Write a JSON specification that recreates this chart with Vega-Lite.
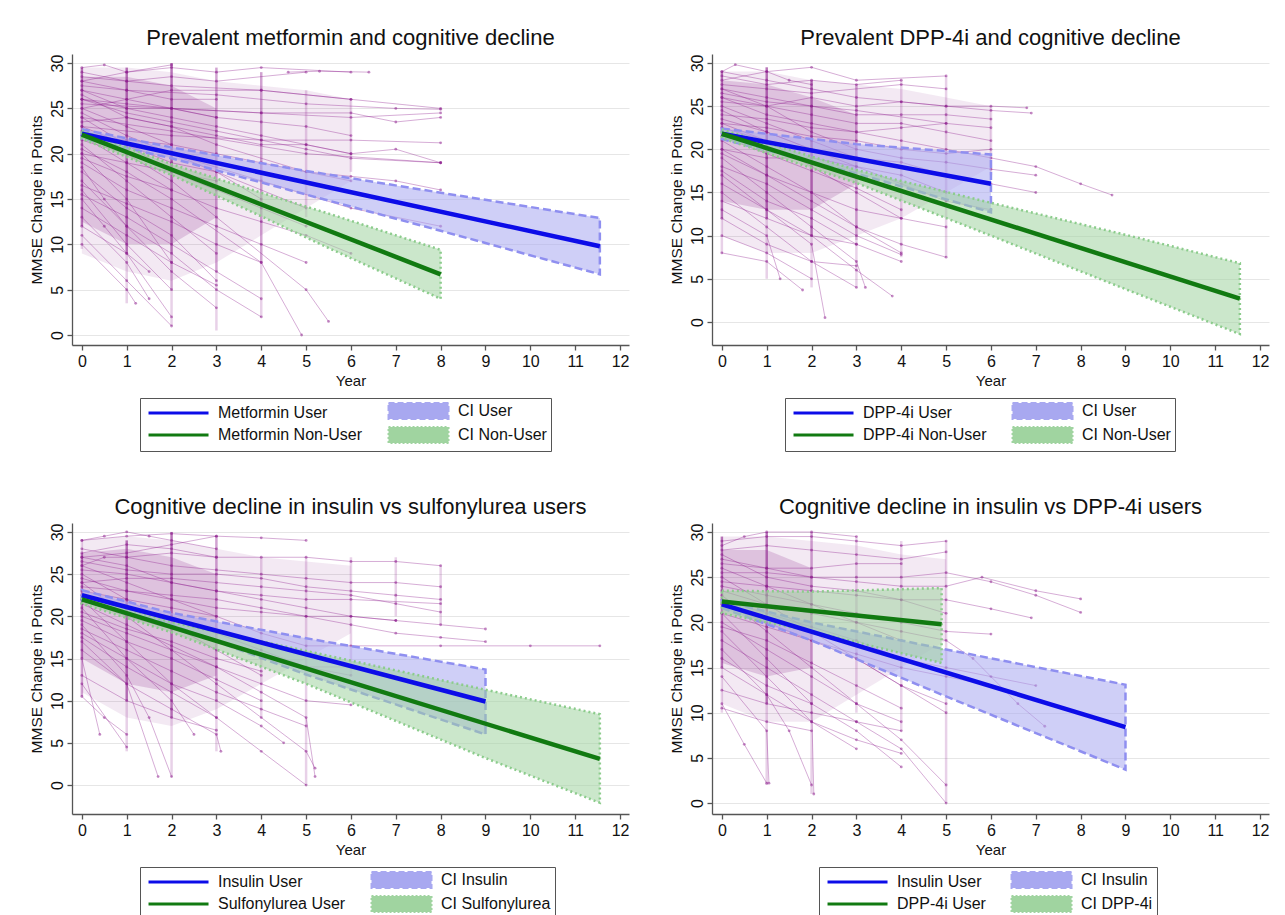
{
"$schema":"https://vega.github.io/schema/vega-lite/v6.json",
"background":"white",
"padding":{"left":29,"top":27,"right":10,"bottom":5},
"spacing":44,
"config":{
"font":"Liberation Sans",
"view":{"stroke":null},
"title":{"fontSize":22,"font":"Liberation Sans","fontWeight":"normal","color":"#111","offset":4,"frame":"group"},
"axis":{"labelFont":"Liberation Sans","titleFont":"Liberation Sans","labelColor":"#111","titleColor":"#111","domainColor":"#555","tickColor":"#555","domainWidth":1.3,"tickWidth":1.3,"tickSize":5,"titleFontWeight":"normal","labelFlush":false,"labelOverlap":false},
"axisX":{"grid":false,"labelFontSize":16,"titleFontSize":15,"labelPadding":3,"titlePadding":4},
"axisY":{"grid":true,"gridColor":"#e6e6e6","gridWidth":1,"labelFontSize":16,"titleFontSize":15.5,"labelPadding":2,"titlePadding":5,"labelAngle":270,"labelAlign":"center","labelBaseline":"bottom"},
"legend":{"labelFont":"Liberation Sans","labelFontSize":16,"labelColor":"#111","symbolSize":256,"labelOffset":56,"columnPadding":21,"rowPadding":0,"padding":4,"strokeColor":"#555","labelLimit":400,"symbolStrokeWidth":3,"symbolOpacity":1}
},
"datasets":{
"t1":[{"i":1,"x":0,"y":29},{"i":1,"x":1,"y":28},{"i":1,"x":2,"y":27.5},{"i":1,"x":4,"y":27},{"i":1,"x":6,"y":26},
{"i":2,"x":0,"y":27},{"i":2,"x":1,"y":26},{"i":2,"x":3,"y":24},
{"i":3,"x":0,"y":25},{"i":3,"x":1,"y":23},{"i":3,"x":2,"y":21},
{"i":4,"x":0,"y":24},{"i":4,"x":2,"y":22.5},{"i":4,"x":5,"y":20},{"i":4,"x":8,"y":19},
{"i":5,"x":0,"y":22},{"i":5,"x":1,"y":19},{"i":5,"x":2,"y":16},
{"i":6,"x":0,"y":21},{"i":6,"x":1,"y":17},{"i":6,"x":2,"y":13},{"i":6,"x":3,"y":9},
{"i":7,"x":0,"y":20},{"i":7,"x":1,"y":15},{"i":7,"x":2,"y":8},
{"i":8,"x":0,"y":18},{"i":8,"x":1,"y":14},{"i":8,"x":2,"y":11},{"i":8,"x":3,"y":6},
{"i":9,"x":0,"y":16},{"i":9,"x":1,"y":10},{"i":9,"x":2,"y":5},
{"i":10,"x":0,"y":15},{"i":10,"x":0.5,"y":12},{"i":10,"x":1,"y":9},{"i":10,"x":2,"y":2},
{"i":11,"x":0,"y":13},{"i":11,"x":1,"y":8},{"i":11,"x":1.5,"y":4},
{"i":12,"x":0,"y":26},{"i":12,"x":1,"y":25},{"i":12,"x":2,"y":25},{"i":12,"x":3,"y":24},{"i":12,"x":4,"y":23.5},{"i":12,"x":5,"y":23},{"i":12,"x":6,"y":22},
{"i":13,"x":0,"y":28},{"i":13,"x":1,"y":29},{"i":13,"x":2,"y":29.5},{"i":13,"x":3,"y":29},{"i":13,"x":4,"y":29.5},{"i":13,"x":6,"y":29},
{"i":14,"x":0,"y":23},{"i":14,"x":1,"y":21},{"i":14,"x":2,"y":19},{"i":14,"x":3,"y":18},{"i":14,"x":4,"y":15},
{"i":15,"x":0,"y":19},{"i":15,"x":1,"y":16},{"i":15,"x":2,"y":14},{"i":15,"x":3,"y":12},{"i":15,"x":4,"y":10},{"i":15,"x":5,"y":8},
{"i":16,"x":0,"y":17},{"i":16,"x":1,"y":12},{"i":16,"x":2,"y":9},{"i":16,"x":3,"y":5},{"i":16,"x":4,"y":2},
{"i":17,"x":0,"y":26.5},{"i":17,"x":1,"y":24},{"i":17,"x":2,"y":23},{"i":17,"x":3,"y":21},{"i":17,"x":5,"y":18},{"i":17,"x":6,"y":17},
{"i":18,"x":0,"y":24.5},{"i":18,"x":1,"y":22},{"i":18,"x":3,"y":18},{"i":18,"x":5,"y":14},
{"i":19,"x":0,"y":22.5},{"i":19,"x":2,"y":20},{"i":19,"x":4,"y":17},{"i":19,"x":6,"y":14},{"i":19,"x":8,"y":12},
{"i":20,"x":0,"y":25.5},{"i":20,"x":2,"y":25},{"i":20,"x":4,"y":24.5},{"i":20,"x":6,"y":24},{"i":20,"x":8,"y":24.5},
{"i":21,"x":0,"y":21.5},{"i":21,"x":1,"y":20},{"i":21,"x":2,"y":17},{"i":21,"x":3,"y":13},{"i":21,"x":5,"y":5},{"i":21,"x":5.5,"y":1.5},
{"i":22,"x":0,"y":20.5},{"i":22,"x":1,"y":18},{"i":22,"x":2,"y":15},{"i":22,"x":4,"y":8},{"i":22,"x":4.9,"y":0},
{"i":23,"x":0,"y":27.5},{"i":23,"x":1,"y":27},{"i":23,"x":2,"y":26},{"i":23,"x":3,"y":26},
{"i":24,"x":0,"y":18.5},{"i":24,"x":0.5,"y":15},{"i":24,"x":1,"y":12},{"i":24,"x":2,"y":7},{"i":24,"x":3,"y":3},
{"i":25,"x":0,"y":14},{"i":25,"x":1,"y":11},{"i":25,"x":2,"y":8},{"i":25,"x":3,"y":5.5},
{"i":26,"x":0,"y":12},{"i":26,"x":1,"y":9},{"i":26,"x":1.5,"y":7},
{"i":27,"x":0,"y":10},{"i":27,"x":1,"y":5},{"i":27,"x":1.2,"y":3.5},
{"i":28,"x":0,"y":23.5},{"i":28,"x":1,"y":24},{"i":28,"x":2,"y":23},{"i":28,"x":3,"y":22},{"i":28,"x":4,"y":21},{"i":28,"x":5,"y":21},{"i":28,"x":6,"y":20},{"i":28,"x":7,"y":20.5},{"i":28,"x":8,"y":19},
{"i":29,"x":0,"y":25},{"i":29,"x":1,"y":26},{"i":29,"x":2,"y":27},{"i":29,"x":4,"y":27},{"i":29,"x":6,"y":26},{"i":29,"x":8,"y":25},
{"i":30,"x":0,"y":28.5},{"i":30,"x":1,"y":28},{"i":30,"x":2,"y":28.5},{"i":30,"x":3,"y":28},{"i":30,"x":5,"y":29},
{"i":31,"x":0,"y":19.5},{"i":31,"x":1,"y":17.5},{"i":31,"x":2,"y":16},{"i":31,"x":3,"y":14},{"i":31,"x":4,"y":12.5},{"i":31,"x":5,"y":11},{"i":31,"x":6,"y":9},
{"i":32,"x":0,"y":16.5},{"i":32,"x":1,"y":14.5},{"i":32,"x":2,"y":12.5},{"i":32,"x":3,"y":10},{"i":32,"x":4,"y":8},
{"i":33,"x":0,"y":22},{"i":33,"x":1,"y":21.5},{"i":33,"x":2,"y":21},{"i":33,"x":3,"y":20},{"i":33,"x":4,"y":19},{"i":33,"x":5,"y":18},{"i":33,"x":6,"y":17.5},{"i":33,"x":7,"y":17},{"i":33,"x":8,"y":16},
{"i":34,"x":0,"y":27},{"i":34,"x":1,"y":25},{"i":34,"x":2,"y":24},{"i":34,"x":3,"y":23},{"i":34,"x":4,"y":22},{"i":34,"x":5,"y":21},{"i":34,"x":6,"y":20},
{"i":35,"x":0,"y":20},{"i":35,"x":1,"y":19},{"i":35,"x":2,"y":18},{"i":35,"x":3,"y":17},
{"i":36,"x":0,"y":15.5},{"i":36,"x":1,"y":13},{"i":36,"x":2,"y":10},{"i":36,"x":3,"y":7},{"i":36,"x":4,"y":4},
{"i":37,"x":0,"y":26},{"i":37,"x":1,"y":24.5},{"i":37,"x":2,"y":23.5},{"i":37,"x":3,"y":22.5},{"i":37,"x":4,"y":21.5},{"i":37,"x":5,"y":20.5},{"i":37,"x":6,"y":19.5},{"i":37,"x":8,"y":19},
{"i":38,"x":0,"y":24},{"i":38,"x":1,"y":21},{"i":38,"x":2,"y":18},{"i":38,"x":3,"y":16},{"i":38,"x":4,"y":14},{"i":38,"x":5,"y":12},
{"i":39,"x":0,"y":29.5},{"i":39,"x":0.5,"y":29.8},{"i":39,"x":1,"y":29},{"i":39,"x":2,"y":29.8},
{"i":40,"x":0,"y":11},{"i":40,"x":1,"y":6},{"i":40,"x":2,"y":1},
{"i":41,"x":4.6,"y":29},{"i":41,"x":5.3,"y":29.1},{"i":41,"x":6.4,"y":29},
{"i":42,"x":0,"y":26},{"i":42,"x":1,"y":25.5},{"i":42,"x":2,"y":25},{"i":42,"x":4,"y":24.5},{"i":42,"x":6,"y":24.5},{"i":42,"x":7,"y":23.5},{"i":42,"x":8,"y":24},
{"i":43,"x":0,"y":23},{"i":43,"x":2,"y":22},{"i":43,"x":4,"y":21.5},{"i":43,"x":6,"y":21.5},{"i":43,"x":8,"y":21.2},
{"i":44,"x":0,"y":28},{"i":44,"x":1,"y":27},{"i":44,"x":3,"y":26.5},{"i":44,"x":5,"y":25.5},{"i":44,"x":7,"y":25},{"i":44,"x":8,"y":24.9}],
"t2":[{"i":1,"x":0,"y":29},{"i":1,"x":1,"y":28},{"i":1,"x":2,"y":27},{"i":1,"x":3,"y":26},{"i":1,"x":4,"y":25.5},{"i":1,"x":5,"y":25},{"i":1,"x":6,"y":24.5},{"i":1,"x":6.9,"y":24.2},
{"i":2,"x":0,"y":27},{"i":2,"x":1,"y":26},{"i":2,"x":2,"y":25},{"i":2,"x":3,"y":24.5},{"i":2,"x":5,"y":23},{"i":2,"x":6,"y":22.5},
{"i":3,"x":0,"y":26},{"i":3,"x":1,"y":24},{"i":3,"x":2,"y":23},{"i":3,"x":3,"y":22},{"i":3,"x":4,"y":21},{"i":3,"x":5,"y":20},{"i":3,"x":6,"y":19},{"i":3,"x":7,"y":18},{"i":3,"x":8,"y":16},{"i":3,"x":8.7,"y":14.7},
{"i":4,"x":0,"y":25},{"i":4,"x":1,"y":23},{"i":4,"x":2,"y":21},{"i":4,"x":3,"y":19},
{"i":5,"x":0,"y":23},{"i":5,"x":1,"y":21},{"i":5,"x":2,"y":18},{"i":5,"x":3,"y":15},{"i":5,"x":4,"y":12},
{"i":6,"x":0,"y":21},{"i":6,"x":1,"y":18},{"i":6,"x":2,"y":15},{"i":6,"x":3,"y":11},{"i":6,"x":4,"y":8},
{"i":7,"x":0,"y":19},{"i":7,"x":1,"y":15},{"i":7,"x":2,"y":11},{"i":7,"x":3,"y":7},{"i":7,"x":3.2,"y":4},
{"i":8,"x":0,"y":17},{"i":8,"x":1,"y":13},{"i":8,"x":2,"y":9},{"i":8,"x":2.3,"y":0.5},
{"i":9,"x":0,"y":15},{"i":9,"x":1,"y":11},{"i":9,"x":2,"y":7},{"i":9,"x":3,"y":4},
{"i":10,"x":0,"y":8},{"i":10,"x":1,"y":7},{"i":10,"x":1.8,"y":3.7},
{"i":11,"x":0,"y":13},{"i":11,"x":1,"y":10},{"i":11,"x":1.3,"y":5},
{"i":12,"x":0,"y":28},{"i":12,"x":1,"y":29},{"i":12,"x":2,"y":29.5},{"i":12,"x":3,"y":28},{"i":12,"x":5,"y":28.5},
{"i":13,"x":0,"y":24},{"i":13,"x":1,"y":23.5},{"i":13,"x":2,"y":22.5},{"i":13,"x":3,"y":22},{"i":13,"x":4,"y":22.5},{"i":13,"x":5,"y":23},
{"i":14,"x":0,"y":20},{"i":14,"x":1,"y":17},{"i":14,"x":2,"y":14},{"i":14,"x":3,"y":11},{"i":14,"x":4,"y":9},{"i":14,"x":5,"y":7.5},
{"i":15,"x":0,"y":18},{"i":15,"x":1,"y":16},{"i":15,"x":2,"y":13},{"i":15,"x":3,"y":10},{"i":15,"x":4,"y":7.8},
{"i":16,"x":0,"y":16},{"i":16,"x":1,"y":13},{"i":16,"x":2,"y":10},{"i":16,"x":3,"y":6},{"i":16,"x":3.8,"y":3},
{"i":17,"x":0,"y":27.5},{"i":17,"x":1,"y":27},{"i":17,"x":2,"y":26.5},{"i":17,"x":4,"y":27.5},{"i":17,"x":5,"y":27},
{"i":18,"x":0,"y":25.5},{"i":18,"x":1,"y":25},{"i":18,"x":2,"y":24},{"i":18,"x":3,"y":23},{"i":18,"x":4,"y":23},{"i":18,"x":5,"y":22},{"i":18,"x":6,"y":21},
{"i":19,"x":0,"y":23.5},{"i":19,"x":1,"y":22},{"i":19,"x":2,"y":20},{"i":19,"x":3,"y":18},{"i":19,"x":4,"y":17},{"i":19,"x":5,"y":15},
{"i":20,"x":0,"y":21.5},{"i":20,"x":1,"y":19.5},{"i":20,"x":2,"y":17.5},{"i":20,"x":3,"y":15.5},{"i":20,"x":4,"y":13},
{"i":21,"x":0,"y":20},{"i":21,"x":1,"y":19},{"i":21,"x":2,"y":19},{"i":21,"x":3,"y":18},{"i":21,"x":4,"y":16},{"i":21,"x":5,"y":14},{"i":21,"x":6,"y":13},
{"i":22,"x":0,"y":14},{"i":22,"x":1,"y":12},{"i":22,"x":2,"y":10},{"i":22,"x":3,"y":9},{"i":22,"x":4,"y":7},
{"i":23,"x":0,"y":26.5},{"i":23,"x":1,"y":25.5},{"i":23,"x":2,"y":25},{"i":23,"x":3,"y":24},{"i":23,"x":4,"y":24},{"i":23,"x":5,"y":24},{"i":23,"x":6,"y":23.5},
{"i":24,"x":0,"y":22.5},{"i":24,"x":1,"y":21},{"i":24,"x":2,"y":20},{"i":24,"x":3,"y":19},{"i":24,"x":4,"y":18.5},{"i":24,"x":5,"y":17},{"i":24,"x":6,"y":16},{"i":24,"x":7,"y":15},
{"i":25,"x":0,"y":29},{"i":25,"x":0.3,"y":29.8},{"i":25,"x":1,"y":29},{"i":25,"x":1.5,"y":28},{"i":25,"x":2,"y":27.5},
{"i":26,"x":0,"y":24.5},{"i":26,"x":1,"y":22},{"i":26,"x":2,"y":20},{"i":26,"x":3,"y":19},{"i":26,"x":4,"y":18},
{"i":27,"x":0,"y":19.5},{"i":27,"x":1,"y":17},{"i":27,"x":2,"y":15},{"i":27,"x":3,"y":13},{"i":27,"x":4,"y":12},{"i":27,"x":5,"y":11},
{"i":28,"x":0,"y":17.5},{"i":28,"x":1,"y":14},{"i":28,"x":2,"y":12},{"i":28,"x":3,"y":9},
{"i":29,"x":0,"y":26},{"i":29,"x":1,"y":25},{"i":29,"x":2,"y":26},{"i":29,"x":3,"y":25},{"i":29,"x":4,"y":25.5},{"i":29,"x":5,"y":25},{"i":29,"x":6,"y":25},{"i":29,"x":6.8,"y":24.8},
{"i":30,"x":0,"y":10},{"i":30,"x":1,"y":8},{"i":30,"x":2,"y":5},
{"i":31,"x":0,"y":23},{"i":31,"x":1,"y":22.5},{"i":31,"x":2,"y":21.5},{"i":31,"x":3,"y":21},{"i":31,"x":4,"y":20},{"i":31,"x":5,"y":19.5},{"i":31,"x":6,"y":20},
{"i":32,"x":0,"y":27},{"i":32,"x":1,"y":25},{"i":32,"x":2,"y":22},{"i":32,"x":3,"y":20},{"i":32,"x":4,"y":19},{"i":32,"x":5,"y":18.5},{"i":32,"x":6,"y":17.7},{"i":32,"x":7,"y":17},
{"i":33,"x":0,"y":12},{"i":33,"x":1,"y":9},{"i":33,"x":2,"y":7},{"i":33,"x":3,"y":6.5},
{"i":34,"x":0,"y":28.5},{"i":34,"x":1,"y":27.5},{"i":34,"x":2,"y":28},{"i":34,"x":3,"y":27.5},{"i":34,"x":4,"y":28}],
"t3":[{"i":1,"x":0,"y":29},{"i":1,"x":1,"y":29.5},{"i":1,"x":2,"y":29.8},{"i":1,"x":3,"y":29.5},{"i":1,"x":4,"y":29.3},{"i":1,"x":5,"y":29},
{"i":2,"x":0,"y":28},{"i":2,"x":1,"y":27},{"i":2,"x":2,"y":26},{"i":2,"x":3,"y":25.5},{"i":2,"x":4,"y":25},{"i":2,"x":5,"y":24.5},{"i":2,"x":6,"y":24},{"i":2,"x":7,"y":24},{"i":2,"x":8,"y":23.5},
{"i":3,"x":0,"y":27},{"i":3,"x":1,"y":26},{"i":3,"x":2,"y":24},{"i":3,"x":3,"y":23},{"i":3,"x":4,"y":22},{"i":3,"x":5,"y":21},{"i":3,"x":6,"y":20},{"i":3,"x":7,"y":19.5},{"i":3,"x":8,"y":19},{"i":3,"x":9,"y":18.5},
{"i":4,"x":0,"y":26},{"i":4,"x":1,"y":24},{"i":4,"x":2,"y":22},{"i":4,"x":3,"y":20},
{"i":5,"x":0,"y":25},{"i":5,"x":1,"y":22},{"i":5,"x":2,"y":19},{"i":5,"x":3,"y":16},{"i":5,"x":4,"y":13},
{"i":6,"x":0,"y":24},{"i":6,"x":1,"y":20},{"i":6,"x":2,"y":16},{"i":6,"x":3,"y":12},{"i":6,"x":4,"y":8},{"i":6,"x":5,"y":4},{"i":6,"x":5.2,"y":2},
{"i":7,"x":0,"y":22},{"i":7,"x":1,"y":17},{"i":7,"x":2,"y":12},{"i":7,"x":3,"y":8},{"i":7,"x":4,"y":4},{"i":7,"x":5,"y":0},
{"i":8,"x":0,"y":21},{"i":8,"x":1,"y":15},{"i":8,"x":2,"y":10},{"i":8,"x":2.5,"y":6},
{"i":9,"x":0,"y":19},{"i":9,"x":1,"y":13},{"i":9,"x":1.5,"y":8},{"i":9,"x":2,"y":1},
{"i":10,"x":0,"y":17},{"i":10,"x":1,"y":12},{"i":10,"x":1.7,"y":1},
{"i":11,"x":0,"y":15},{"i":11,"x":0.4,"y":6},
{"i":12,"x":0,"y":12},{"i":12,"x":1,"y":4.5},
{"i":13,"x":0,"y":23},{"i":13,"x":1,"y":22},{"i":13,"x":2,"y":21},{"i":13,"x":3,"y":20},{"i":13,"x":4,"y":18},{"i":13,"x":5,"y":16.5},{"i":13,"x":6,"y":16.5},{"i":13,"x":8,"y":16.5},{"i":13,"x":10,"y":16.5},{"i":13,"x":11.55,"y":16.5},
{"i":14,"x":0,"y":20},{"i":14,"x":1,"y":18},{"i":14,"x":2,"y":16},{"i":14,"x":3,"y":14},{"i":14,"x":4,"y":12},{"i":14,"x":5,"y":10},{"i":14,"x":6,"y":9.5},
{"i":15,"x":0,"y":18},{"i":15,"x":1,"y":15},{"i":15,"x":2,"y":12},{"i":15,"x":3,"y":10},{"i":15,"x":4,"y":7},{"i":15,"x":4.5,"y":5},
{"i":16,"x":0,"y":16},{"i":16,"x":1,"y":12},{"i":16,"x":2,"y":9},{"i":16,"x":3,"y":6},{"i":16,"x":3.1,"y":4},
{"i":17,"x":0,"y":26.5},{"i":17,"x":1,"y":25.5},{"i":17,"x":2,"y":25},{"i":17,"x":3,"y":25},{"i":17,"x":4,"y":24.5},{"i":17,"x":5,"y":23.5},{"i":17,"x":6,"y":23},{"i":17,"x":7,"y":22.5},{"i":17,"x":8,"y":22},
{"i":18,"x":0,"y":24.5},{"i":18,"x":1,"y":23},{"i":18,"x":2,"y":22},{"i":18,"x":3,"y":21},{"i":18,"x":4,"y":20.5},{"i":18,"x":5,"y":20},{"i":18,"x":6,"y":20},{"i":18,"x":7,"y":19.5},
{"i":19,"x":0,"y":22.5},{"i":19,"x":1,"y":21},{"i":19,"x":2,"y":20},{"i":19,"x":3,"y":18},{"i":19,"x":4,"y":16},{"i":19,"x":5,"y":14},{"i":19,"x":6,"y":13},
{"i":20,"x":0,"y":27.5},{"i":20,"x":1,"y":28.5},{"i":20,"x":2,"y":28},{"i":20,"x":3,"y":27},{"i":20,"x":4,"y":27},{"i":20,"x":5,"y":27},{"i":20,"x":6,"y":26.5},{"i":20,"x":7,"y":26.5},{"i":20,"x":8,"y":26},
{"i":21,"x":0,"y":21.5},{"i":21,"x":1,"y":19},{"i":21,"x":2,"y":16.5},{"i":21,"x":3,"y":14},{"i":21,"x":4,"y":11},{"i":21,"x":5,"y":8},{"i":21,"x":5.2,"y":1},
{"i":22,"x":0,"y":19.5},{"i":22,"x":1,"y":17},{"i":22,"x":2,"y":15},{"i":22,"x":3,"y":12.5},{"i":22,"x":4,"y":10},
{"i":23,"x":0,"y":23.5},{"i":23,"x":1,"y":23},{"i":23,"x":2,"y":22.5},{"i":23,"x":3,"y":22},{"i":23,"x":4,"y":21},{"i":23,"x":5,"y":20},{"i":23,"x":6,"y":19},{"i":23,"x":7,"y":18},{"i":23,"x":8,"y":17.5},{"i":23,"x":9,"y":17},
{"i":24,"x":0,"y":25.5},{"i":24,"x":1,"y":25},{"i":24,"x":2,"y":24},{"i":24,"x":3,"y":23},{"i":24,"x":4,"y":22.5},{"i":24,"x":5,"y":22},{"i":24,"x":6,"y":22},{"i":24,"x":8,"y":21.5},
{"i":25,"x":0,"y":17.5},{"i":25,"x":1,"y":14},{"i":25,"x":2,"y":11},{"i":25,"x":3,"y":8},
{"i":26,"x":0,"y":26},{"i":26,"x":0.5,"y":27},{"i":26,"x":1,"y":27},{"i":26,"x":2,"y":27.5},{"i":26,"x":3,"y":27},
{"i":27,"x":0,"y":18.5},{"i":27,"x":1,"y":16},{"i":27,"x":2,"y":13.5},{"i":27,"x":3,"y":11},{"i":27,"x":4,"y":9},{"i":27,"x":5,"y":7},
{"i":28,"x":0,"y":13},{"i":28,"x":1,"y":10},{"i":28,"x":2,"y":8},{"i":28,"x":3,"y":6.5},
{"i":29,"x":0,"y":24},{"i":29,"x":1,"y":24.5},{"i":29,"x":2,"y":24.5},{"i":29,"x":3,"y":24},{"i":29,"x":4,"y":23.5},{"i":29,"x":5,"y":23},{"i":29,"x":6,"y":22.5},{"i":29,"x":7,"y":21.5},{"i":29,"x":8,"y":20.5},
{"i":30,"x":0,"y":29},{"i":30,"x":0.5,"y":29.5},{"i":30,"x":1,"y":30},{"i":30,"x":1.5,"y":29.5},{"i":30,"x":2,"y":29},{"i":30,"x":3,"y":28},
{"i":31,"x":0,"y":22},{"i":31,"x":1,"y":20},{"i":31,"x":2,"y":18.5},{"i":31,"x":3,"y":17},{"i":31,"x":4,"y":15.5},{"i":31,"x":5,"y":14},{"i":31,"x":6,"y":14},
{"i":32,"x":0,"y":10.5},{"i":32,"x":0.5,"y":8},{"i":32,"x":1,"y":6},
{"i":33,"x":0,"y":27},{"i":33,"x":1,"y":27.5},{"i":33,"x":2,"y":28.5},{"i":33,"x":3,"y":29.5},
{"i":34,"x":0,"y":20.5},{"i":34,"x":1,"y":18.5},{"i":34,"x":2,"y":17},{"i":34,"x":3,"y":15},{"i":34,"x":4,"y":13.5}],
"t4":[{"i":1,"x":0,"y":29},{"i":1,"x":1,"y":29.5},{"i":1,"x":2,"y":29.5},{"i":1,"x":3,"y":29},{"i":1,"x":4,"y":28.5},{"i":1,"x":5,"y":29},
{"i":2,"x":0,"y":28},{"i":2,"x":1,"y":28.5},{"i":2,"x":2,"y":28},{"i":2,"x":3,"y":27.5},{"i":2,"x":4,"y":27},{"i":2,"x":5,"y":27.8},
{"i":3,"x":0,"y":27},{"i":3,"x":1,"y":26},{"i":3,"x":2,"y":25},{"i":3,"x":3,"y":24.5},{"i":3,"x":4,"y":24},{"i":3,"x":5,"y":24},{"i":3,"x":5.8,"y":25},{"i":3,"x":7,"y":23.5},{"i":3,"x":8,"y":22.6},
{"i":4,"x":0,"y":26},{"i":4,"x":1,"y":24},{"i":4,"x":2,"y":22},{"i":4,"x":3,"y":20},{"i":4,"x":4,"y":18},
{"i":5,"x":0,"y":25},{"i":5,"x":1,"y":22},{"i":5,"x":2,"y":19},{"i":5,"x":3,"y":16},{"i":5,"x":4,"y":13},{"i":5,"x":5,"y":11},
{"i":6,"x":0,"y":23},{"i":6,"x":1,"y":19},{"i":6,"x":2,"y":15},{"i":6,"x":3,"y":11},{"i":6,"x":4,"y":7},{"i":6,"x":5,"y":2},
{"i":7,"x":0,"y":21},{"i":7,"x":1,"y":16},{"i":7,"x":2,"y":11},{"i":7,"x":2.05,"y":1},
{"i":8,"x":0,"y":19},{"i":8,"x":1,"y":14},{"i":8,"x":2,"y":9},{"i":8,"x":3,"y":6},
{"i":9,"x":0,"y":17},{"i":9,"x":1,"y":12},{"i":9,"x":1.5,"y":8},{"i":9,"x":2,"y":2},
{"i":10,"x":0,"y":14},{"i":10,"x":1,"y":8},{"i":10,"x":1.05,"y":2.2},
{"i":11,"x":0,"y":11},{"i":11,"x":0.5,"y":6.5},{"i":11,"x":1,"y":2.2},
{"i":12,"x":0,"y":25.5},{"i":12,"x":1,"y":25.5},{"i":12,"x":2,"y":25},{"i":12,"x":3,"y":25},{"i":12,"x":4,"y":25},{"i":12,"x":5,"y":25.5},{"i":12,"x":6,"y":24.5},{"i":12,"x":7,"y":23},{"i":12,"x":8,"y":21.1},
{"i":13,"x":0,"y":24},{"i":13,"x":1,"y":23},{"i":13,"x":2,"y":22},{"i":13,"x":3,"y":21},{"i":13,"x":4,"y":20},{"i":13,"x":5,"y":19},{"i":13,"x":6,"y":18.7},
{"i":14,"x":0,"y":22},{"i":14,"x":1,"y":20},{"i":14,"x":2,"y":18},{"i":14,"x":3,"y":16},{"i":14,"x":4,"y":13},{"i":14,"x":5,"y":10},
{"i":15,"x":0,"y":20},{"i":15,"x":1,"y":17},{"i":15,"x":2,"y":14},{"i":15,"x":3,"y":11},{"i":15,"x":4,"y":9},
{"i":16,"x":0,"y":18},{"i":16,"x":1,"y":15},{"i":16,"x":2,"y":12},{"i":16,"x":3,"y":9},{"i":16,"x":4,"y":6},{"i":16,"x":5,"y":0},
{"i":17,"x":0,"y":16},{"i":17,"x":1,"y":13},{"i":17,"x":2,"y":11},{"i":17,"x":3,"y":8},{"i":17,"x":4,"y":4},
{"i":18,"x":0,"y":26.5},{"i":18,"x":1,"y":26},{"i":18,"x":2,"y":26},{"i":18,"x":3,"y":26.5},{"i":18,"x":4,"y":26.5},
{"i":19,"x":0,"y":23.5},{"i":19,"x":1,"y":22},{"i":19,"x":2,"y":21},{"i":19,"x":3,"y":20},{"i":19,"x":4,"y":19},{"i":19,"x":5,"y":18},{"i":19,"x":5.6,"y":16},{"i":19,"x":6.6,"y":11},{"i":19,"x":7.2,"y":8.5},
{"i":20,"x":0,"y":21},{"i":20,"x":1,"y":19.5},{"i":20,"x":2,"y":18},{"i":20,"x":3,"y":16.5},{"i":20,"x":4,"y":15},{"i":20,"x":5,"y":14},{"i":20,"x":6,"y":13},
{"i":21,"x":0,"y":12.5},{"i":21,"x":1,"y":11},{"i":21,"x":2,"y":10},{"i":21,"x":3,"y":9},{"i":21,"x":4,"y":8},
{"i":22,"x":0,"y":10.5},{"i":22,"x":1,"y":9},{"i":22,"x":2,"y":8},
{"i":23,"x":0,"y":28.5},{"i":23,"x":0.5,"y":29.5},{"i":23,"x":1,"y":30},{"i":23,"x":2,"y":30},{"i":23,"x":3,"y":29.5},
{"i":24,"x":0,"y":24.5},{"i":24,"x":1,"y":24},{"i":24,"x":2,"y":23.5},{"i":24,"x":3,"y":23},{"i":24,"x":4,"y":22.5},{"i":24,"x":5,"y":22.5},{"i":24,"x":6,"y":21.5},{"i":24,"x":6.9,"y":20.5},
{"i":25,"x":0,"y":19.5},{"i":25,"x":1,"y":18},{"i":25,"x":2,"y":15.5},{"i":25,"x":3,"y":13},{"i":25,"x":4,"y":10.5},
{"i":26,"x":0,"y":15},{"i":26,"x":1,"y":12},{"i":26,"x":2,"y":9},{"i":26,"x":3,"y":7},{"i":26,"x":4,"y":5.5},
{"i":27,"x":0,"y":27.5},{"i":27,"x":1,"y":25},{"i":27,"x":2,"y":24},{"i":27,"x":3,"y":23.5},{"i":27,"x":4,"y":22.5},{"i":27,"x":5,"y":21},
{"i":28,"x":0,"y":22.5},{"i":28,"x":1,"y":21},{"i":28,"x":2,"y":19.5},{"i":28,"x":3,"y":18},{"i":28,"x":4,"y":16},{"i":28,"x":5,"y":15},{"i":28,"x":6,"y":14},{"i":28,"x":7,"y":13}],
"s1":[{"x":0,"y":29.5,"lo":12,"l":3},{"x":0,"y":12,"lo":9.5,"l":1},{"x":1,"y":29.5,"lo":9,"l":3},{"x":1,"y":9,"lo":3.5,"l":1},{"x":2,"y":30,"lo":9,"l":3},{"x":2,"y":9,"lo":5,"l":2},{"x":2,"y":5,"lo":1,"l":1},{"x":3,"y":29.5,"lo":7,"l":2},{"x":3,"y":7,"lo":0.5,"l":1},{"x":4,"y":29,"lo":8,"l":2},{"x":4,"y":8,"lo":2,"l":1},{"x":5,"y":27,"lo":13,"l":1},{"x":6,"y":26,"lo":18,"l":1}],
"s2":[{"x":0,"y":29,"lo":12,"l":3},{"x":0,"y":12,"lo":8,"l":1},{"x":1,"y":29.5,"lo":12,"l":3},{"x":1,"y":12,"lo":5,"l":1},{"x":2,"y":28,"lo":10,"l":3},{"x":2,"y":10,"lo":4,"l":1},{"x":3,"y":27.5,"lo":9.5,"l":2},{"x":3,"y":9.5,"lo":4,"l":1},{"x":4,"y":28,"lo":7.5,"l":1},{"x":5,"y":28.5,"lo":7.5,"l":1},{"x":6,"y":25,"lo":17,"l":1}],
"s3":[{"x":0,"y":27.5,"lo":15,"l":3},{"x":0,"y":15,"lo":10.5,"l":2},{"x":0,"y":29,"lo":27.5,"l":1},{"x":1,"y":29,"lo":10,"l":3},{"x":1,"y":10,"lo":4,"l":1},{"x":2,"y":30,"lo":8,"l":3},{"x":2,"y":8,"lo":1,"l":1},{"x":3,"y":29.5,"lo":10,"l":2},{"x":3,"y":10,"lo":4,"l":1},{"x":4,"y":27,"lo":8,"l":1},{"x":5,"y":27,"lo":0,"l":1},{"x":6,"y":27,"lo":13,"l":1},{"x":7,"y":27,"lo":20,"l":1},{"x":8,"y":26,"lo":19,"l":1}],
"s4":[{"x":0,"y":29.5,"lo":15,"l":3},{"x":0,"y":15,"lo":10,"l":1},{"x":1,"y":30,"lo":11,"l":3},{"x":1,"y":11,"lo":2,"l":1},{"x":2,"y":30,"lo":11,"l":2},{"x":2,"y":11,"lo":1,"l":1},{"x":3,"y":29.5,"lo":10,"l":1},{"x":4,"y":29,"lo":8,"l":1},{"x":5,"y":29,"lo":0,"l":1}],
"h1":[{"x":0,"y":29.5,"lo":9,"l":1},{"x":1,"y":29.5,"lo":7,"l":1},{"x":2,"y":29,"lo":6,"l":1},{"x":3,"y":28,"lo":8,"l":1},{"x":4,"y":27.5,"lo":11,"l":1},{"x":5,"y":27,"lo":14,"l":1},{"x":6,"y":26,"lo":17,"l":1},{"x":0,"y":28.5,"lo":12.5,"l":2},{"x":1,"y":28.5,"lo":10,"l":2},{"x":2,"y":27.5,"lo":10,"l":2},{"x":3,"y":25,"lo":13,"l":2}],
"h2":[{"x":0,"y":29,"lo":10,"l":1},{"x":1,"y":29,"lo":8,"l":1},{"x":2,"y":28,"lo":8,"l":1},{"x":3,"y":27.5,"lo":10,"l":1},{"x":4,"y":27,"lo":12,"l":1},{"x":5,"y":26,"lo":15,"l":1},{"x":6,"y":25,"lo":18,"l":1},{"x":0,"y":28,"lo":14,"l":2},{"x":1,"y":27.5,"lo":13,"l":2},{"x":2,"y":26,"lo":13,"l":2},{"x":3,"y":24,"lo":16,"l":2}],
"h3":[{"x":0,"y":29,"lo":11,"l":1},{"x":1,"y":29.5,"lo":8,"l":1},{"x":2,"y":29,"lo":7,"l":1},{"x":3,"y":28,"lo":9,"l":1},{"x":4,"y":27,"lo":12,"l":1},{"x":5,"y":26.5,"lo":15,"l":1},{"x":6,"y":26,"lo":18,"l":1},{"x":0,"y":27.5,"lo":15,"l":2},{"x":1,"y":28,"lo":12,"l":2},{"x":2,"y":27,"lo":11,"l":2},{"x":3,"y":25,"lo":13,"l":2}],
"h4":[{"x":0,"y":29.5,"lo":11,"l":1},{"x":1,"y":29.5,"lo":9,"l":1},{"x":2,"y":29,"lo":9,"l":1},{"x":3,"y":28.5,"lo":12,"l":1},{"x":4,"y":27.5,"lo":15,"l":1},{"x":5,"y":27,"lo":18,"l":1},{"x":0,"y":28,"lo":15.5,"l":2},{"x":1,"y":28,"lo":14,"l":2},{"x":2,"y":26,"lo":15,"l":2}],
"r1":[{"s":"a","x":0,"y":22.2},{"s":"a","x":11.55,"y":9.8},{"s":"c","x":0,"y":22.1},{"s":"c","x":8,"y":6.7}],
"c1":[{"s":"b","x":0,"y":22.7,"lo":21.7},{"s":"b","x":2,"y":20.7,"lo":19.5},{"s":"b","x":5,"y":18.1,"lo":15.5},{"s":"b","x":8,"y":15.7,"lo":11.5},{"s":"b","x":11.55,"y":12.9,"lo":6.7},{"s":"d","x":0,"y":22.55,"lo":21.65},{"s":"d","x":2,"y":18.85,"lo":17.65},{"s":"d","x":4,"y":15.7,"lo":13.1},{"s":"d","x":5.5,"y":13.4,"lo":9.6},{"s":"d","x":8,"y":9.4,"lo":4.0}],
"r2":[{"s":"a","x":0,"y":21.8},{"s":"a","x":6,"y":16.0},{"s":"c","x":0,"y":21.8},{"s":"c","x":11.55,"y":2.7}],
"c2":[{"s":"b","x":0,"y":22.4,"lo":21.2},{"s":"b","x":3,"y":20.6,"lo":17.2},{"s":"b","x":6,"y":19.4,"lo":12.7},{"s":"d","x":0,"y":22.3,"lo":21.3},{"s":"d","x":3,"y":17.6,"lo":16.1},{"s":"d","x":6,"y":13.8,"lo":10.0},{"s":"d","x":9,"y":10.1,"lo":3.8},{"s":"d","x":11.55,"y":6.8,"lo":-1.4}],
"r3":[{"s":"a","x":0,"y":22.5},{"s":"a","x":9,"y":9.9},{"s":"c","x":0,"y":22.0},{"s":"c","x":11.55,"y":3.1}],
"c3":[{"s":"b","x":0,"y":23.1,"lo":21.9},{"s":"b","x":2,"y":20.4,"lo":19.0},{"s":"b","x":5,"y":17.4,"lo":13.1},{"s":"b","x":9,"y":13.7,"lo":6.0},{"s":"d","x":0,"y":22.5,"lo":21.5},{"s":"d","x":2,"y":19.3,"lo":18.1},{"s":"d","x":5,"y":15.9,"lo":12.0},{"s":"d","x":9,"y":11.3,"lo":3.2},{"s":"d","x":11.55,"y":8.4,"lo":-2.1}],
"r4":[{"s":"a","x":0,"y":22.0},{"s":"a","x":9,"y":8.4},{"s":"c","x":0,"y":22.3},{"s":"c","x":4.9,"y":19.8}],
"c4":[{"s":"b","x":0,"y":22.4,"lo":21.6},{"s":"b","x":2,"y":20.0,"lo":18.0},{"s":"b","x":5,"y":17.0,"lo":11.8},{"s":"b","x":9,"y":13.1,"lo":3.7},{"s":"d","x":0,"y":23.5,"lo":21.0},{"s":"d","x":2,"y":23.4,"lo":19.0},{"s":"d","x":4.9,"y":23.8,"lo":15.5}]
},
"resolve":{"scale":{"color":"independent"},"legend":{"color":"independent"}},
"vconcat":[
{"hconcat":[
{"width":557,"height":291,"title":"Prevalent metformin and cognitive decline",
"encoding":{"x":{"field":"x","type":"quantitative","scale":{"domain":[-0.22,12.2],"nice":false,"zero":false},"axis":{"title":"Year","values":[0,1,2,3,4,5,6,7,8,9,10,11,12]}},
"y":{"field":"y","type":"quantitative","scale":{"domain":[-1.1,31],"nice":false,"zero":false},"axis":{"title":"MMSE Change in Points","values":[0,5,10,15,20,25,30],"labelAngle":270,"labelAlign":"center","labelBaseline":"bottom"}}},
"layer":[
{"data":{"name":"h1"},"mark":{"type":"area","color":"#8e2a8e"},"encoding":{"y2":{"field":"lo"},"detail":{"field":"l"},"fillOpacity":{"field":"l","type":"quantitative","scale":{"domain":[1,2],"range":[0.1,0.2]},"legend":null}}},
{"data":{"name":"s1"},"mark":{"type":"rule","color":"#8b1a8b","strokeWidth":2.5},"encoding":{"y2":{"field":"lo"},"strokeOpacity":{"field":"l","type":"quantitative","scale":{"domain":[1,3],"range":[0.2,0.6]},"legend":null}}},
{"data":{"name":"t1"},"mark":{"type":"line","color":"#8b1a8b","strokeWidth":0.8,"opacity":0.45},"encoding":{"detail":{"field":"i"}}},
{"data":{"name":"t1"},"mark":{"type":"circle","color":"#8b1a8b","size":8,"opacity":0.5}},
{"data":{"name":"c1"},"transform":[{"filter":"datum.s=='b'"}],"mark":{"type":"area","fillOpacity":0.55,"stroke":"#8f8ff0","strokeWidth":2.5,"strokeDash":[8,4]},"encoding":{"y2":{"field":"lo"},
"color":{"field":"s","type":"nominal","scale":{"domain":["a","c","b","d"],"range":["#0c0ce8","#117a11","#a8a8f0","#a0d4a0"]}}}},
{"data":{"name":"c1"},"transform":[{"filter":"datum.s=='d'"}],"mark":{"type":"area","fillOpacity":0.55,"stroke":"#8ccc8c","strokeWidth":2.5,"strokeDash":[2,3]},"encoding":{"y2":{"field":"lo"},
"color":{"field":"s","type":"nominal","scale":{"domain":["a","c","b","d"],"range":["#0c0ce8","#117a11","#a8a8f0","#a0d4a0"]}}}},
{"data":{"name":"r1"},"mark":{"type":"line","strokeWidth":4.5},"encoding":{
"color":{"field":"s","type":"nominal","scale":{"domain":["a","c","b","d"],"range":["#0c0ce8","#117a11","#a8a8f0","#a0d4a0"]},
"legend":{"orient":"none","legendX":68,"legendY":344,"columns":2,"title":null,
"labelExpr":"datum.value=='a'?'Metformin User':datum.value=='b'?'CI User':datum.value=='c'?'Metformin Non-User':'CI Non-User'",
"encoding":{"symbols":{
"shape":{"value":{"expr":"(datum.value=='b'||datum.value=='d')?'M-0.56,-1L6.94,-1L6.94,1L-0.56,1Z':'M-0.56,0L6.94,0'"}},
"fill":{"value":{"expr":"datum.value=='b'?'#cfcff7':datum.value=='d'?'#cde8cd':'transparent'"}},
"stroke":{"value":{"expr":"datum.value=='a'?'#0c0ce8':datum.value=='c'?'#117a11':datum.value=='b'?'#8f8ff0':'#8ccc8c'"}},
"strokeWidth":{"value":{"expr":"((datum.value=='a'||datum.value=='c')?3:2)"}},
"strokeDash":{"value":{"expr":"datum.value=='b'?[6,3]:datum.value=='d'?[2,2]:[1,0]"}}}}}}}}
]},
{"width":557,"height":291,"title":"Prevalent DPP-4i and cognitive decline",
"encoding":{"x":{"field":"x","type":"quantitative","scale":{"domain":[-0.22,12.2],"nice":false,"zero":false},"axis":{"title":"Year","values":[0,1,2,3,4,5,6,7,8,9,10,11,12]}},
"y":{"field":"y","type":"quantitative","scale":{"domain":[-2.67,31.04],"nice":false,"zero":false},"axis":{"title":"MMSE Change in Points","values":[0,5,10,15,20,25,30],"labelAngle":270,"labelAlign":"center","labelBaseline":"bottom"}}},
"layer":[
{"data":{"name":"h2"},"mark":{"type":"area","color":"#8e2a8e"},"encoding":{"y2":{"field":"lo"},"detail":{"field":"l"},"fillOpacity":{"field":"l","type":"quantitative","scale":{"domain":[1,2],"range":[0.1,0.2]},"legend":null}}},
{"data":{"name":"s2"},"mark":{"type":"rule","color":"#8b1a8b","strokeWidth":2.5},"encoding":{"y2":{"field":"lo"},"strokeOpacity":{"field":"l","type":"quantitative","scale":{"domain":[1,3],"range":[0.2,0.6]},"legend":null}}},
{"data":{"name":"t2"},"mark":{"type":"line","color":"#8b1a8b","strokeWidth":0.8,"opacity":0.45},"encoding":{"detail":{"field":"i"}}},
{"data":{"name":"t2"},"mark":{"type":"circle","color":"#8b1a8b","size":8,"opacity":0.5}},
{"data":{"name":"c2"},"transform":[{"filter":"datum.s=='b'"}],"mark":{"type":"area","fillOpacity":0.55,"stroke":"#8f8ff0","strokeWidth":2.5,"strokeDash":[8,4]},"encoding":{"y2":{"field":"lo"},
"color":{"field":"s","type":"nominal","scale":{"domain":["a","c","b","d"],"range":["#0c0ce8","#117a11","#a8a8f0","#a0d4a0"]}}}},
{"data":{"name":"c2"},"transform":[{"filter":"datum.s=='d'"}],"mark":{"type":"area","fillOpacity":0.55,"stroke":"#8ccc8c","strokeWidth":2.5,"strokeDash":[2,3]},"encoding":{"y2":{"field":"lo"},
"color":{"field":"s","type":"nominal","scale":{"domain":["a","c","b","d"],"range":["#0c0ce8","#117a11","#a8a8f0","#a0d4a0"]}}}},
{"data":{"name":"r2"},"mark":{"type":"line","strokeWidth":4.5},"encoding":{
"color":{"field":"s","type":"nominal","scale":{"domain":["a","c","b","d"],"range":["#0c0ce8","#117a11","#a8a8f0","#a0d4a0"]},
"legend":{"orient":"none","legendX":73,"legendY":344,"columns":2,"title":null,
"labelExpr":"datum.value=='a'?'DPP-4i User':datum.value=='b'?'CI User':datum.value=='c'?'DPP-4i Non-User':'CI Non-User'",
"encoding":{"symbols":{
"shape":{"value":{"expr":"(datum.value=='b'||datum.value=='d')?'M-0.56,-1L6.94,-1L6.94,1L-0.56,1Z':'M-0.56,0L6.94,0'"}},
"fill":{"value":{"expr":"datum.value=='b'?'#cfcff7':datum.value=='d'?'#cde8cd':'transparent'"}},
"stroke":{"value":{"expr":"datum.value=='a'?'#0c0ce8':datum.value=='c'?'#117a11':datum.value=='b'?'#8f8ff0':'#8ccc8c'"}},
"strokeWidth":{"value":{"expr":"((datum.value=='a'||datum.value=='c')?3:2)"}},
"strokeDash":{"value":{"expr":"datum.value=='b'?[6,3]:datum.value=='d'?[2,2]:[1,0]"}}}}}}}}
]}
],"spacing":40,"resolve":{"scale":{"color":"independent"},"legend":{"color":"independent"}}},
{"hconcat":[
{"width":557,"height":291,"title":"Cognitive decline in insulin vs sulfonylurea users",
"encoding":{"x":{"field":"x","type":"quantitative","scale":{"domain":[-0.22,12.2],"nice":false,"zero":false},"axis":{"title":"Year","values":[0,1,2,3,4,5,6,7,8,9,10,11,12]}},
"y":{"field":"y","type":"quantitative","scale":{"domain":[-3.43,31.06],"nice":false,"zero":false},"axis":{"title":"MMSE Change in Points","values":[0,5,10,15,20,25,30],"labelAngle":270,"labelAlign":"center","labelBaseline":"bottom"}}},
"layer":[
{"data":{"name":"h3"},"mark":{"type":"area","color":"#8e2a8e"},"encoding":{"y2":{"field":"lo"},"detail":{"field":"l"},"fillOpacity":{"field":"l","type":"quantitative","scale":{"domain":[1,2],"range":[0.1,0.2]},"legend":null}}},
{"data":{"name":"s3"},"mark":{"type":"rule","color":"#8b1a8b","strokeWidth":2.5},"encoding":{"y2":{"field":"lo"},"strokeOpacity":{"field":"l","type":"quantitative","scale":{"domain":[1,3],"range":[0.2,0.6]},"legend":null}}},
{"data":{"name":"t3"},"mark":{"type":"line","color":"#8b1a8b","strokeWidth":0.8,"opacity":0.45},"encoding":{"detail":{"field":"i"}}},
{"data":{"name":"t3"},"mark":{"type":"circle","color":"#8b1a8b","size":8,"opacity":0.5}},
{"data":{"name":"c3"},"transform":[{"filter":"datum.s=='b'"}],"mark":{"type":"area","fillOpacity":0.55,"stroke":"#8f8ff0","strokeWidth":2.5,"strokeDash":[8,4]},"encoding":{"y2":{"field":"lo"},
"color":{"field":"s","type":"nominal","scale":{"domain":["a","c","b","d"],"range":["#0c0ce8","#117a11","#a8a8f0","#a0d4a0"]}}}},
{"data":{"name":"c3"},"transform":[{"filter":"datum.s=='d'"}],"mark":{"type":"area","fillOpacity":0.55,"stroke":"#8ccc8c","strokeWidth":2.5,"strokeDash":[2,3]},"encoding":{"y2":{"field":"lo"},
"color":{"field":"s","type":"nominal","scale":{"domain":["a","c","b","d"],"range":["#0c0ce8","#117a11","#a8a8f0","#a0d4a0"]}}}},
{"data":{"name":"r3"},"mark":{"type":"line","strokeWidth":4.5},"encoding":{
"color":{"field":"s","type":"nominal","scale":{"domain":["a","c","b","d"],"range":["#0c0ce8","#117a11","#a8a8f0","#a0d4a0"]},
"legend":{"orient":"none","legendX":68,"legendY":344,"columns":2,"title":null,
"labelExpr":"datum.value=='a'?'Insulin User':datum.value=='b'?'CI Insulin':datum.value=='c'?'Sulfonylurea User':'CI Sulfonylurea'",
"encoding":{"symbols":{
"shape":{"value":{"expr":"(datum.value=='b'||datum.value=='d')?'M-0.56,-1L6.94,-1L6.94,1L-0.56,1Z':'M-0.56,0L6.94,0'"}},
"fill":{"value":{"expr":"datum.value=='b'?'#cfcff7':datum.value=='d'?'#cde8cd':'transparent'"}},
"stroke":{"value":{"expr":"datum.value=='a'?'#0c0ce8':datum.value=='c'?'#117a11':datum.value=='b'?'#8f8ff0':'#8ccc8c'"}},
"strokeWidth":{"value":{"expr":"((datum.value=='a'||datum.value=='c')?3:2)"}},
"strokeDash":{"value":{"expr":"datum.value=='b'?[6,3]:datum.value=='d'?[2,2]:[1,0]"}}}}}}}}
]},
{"width":557,"height":291,"title":"Cognitive decline in insulin vs DPP-4i users",
"encoding":{"x":{"field":"x","type":"quantitative","scale":{"domain":[-0.22,12.2],"nice":false,"zero":false},"axis":{"title":"Year","values":[0,1,2,3,4,5,6,7,8,9,10,11,12]}},
"y":{"field":"y","type":"quantitative","scale":{"domain":[-1.21,31],"nice":false,"zero":false},"axis":{"title":"MMSE Change in Points","values":[0,5,10,15,20,25,30],"labelAngle":270,"labelAlign":"center","labelBaseline":"bottom"}}},
"layer":[
{"data":{"name":"h4"},"mark":{"type":"area","color":"#8e2a8e"},"encoding":{"y2":{"field":"lo"},"detail":{"field":"l"},"fillOpacity":{"field":"l","type":"quantitative","scale":{"domain":[1,2],"range":[0.1,0.2]},"legend":null}}},
{"data":{"name":"s4"},"mark":{"type":"rule","color":"#8b1a8b","strokeWidth":2.5},"encoding":{"y2":{"field":"lo"},"strokeOpacity":{"field":"l","type":"quantitative","scale":{"domain":[1,3],"range":[0.2,0.6]},"legend":null}}},
{"data":{"name":"t4"},"mark":{"type":"line","color":"#8b1a8b","strokeWidth":0.8,"opacity":0.45},"encoding":{"detail":{"field":"i"}}},
{"data":{"name":"t4"},"mark":{"type":"circle","color":"#8b1a8b","size":8,"opacity":0.5}},
{"data":{"name":"c4"},"transform":[{"filter":"datum.s=='b'"}],"mark":{"type":"area","fillOpacity":0.55,"stroke":"#8f8ff0","strokeWidth":2.5,"strokeDash":[8,4]},"encoding":{"y2":{"field":"lo"},
"color":{"field":"s","type":"nominal","scale":{"domain":["a","c","b","d"],"range":["#0c0ce8","#117a11","#a8a8f0","#a0d4a0"]}}}},
{"data":{"name":"c4"},"transform":[{"filter":"datum.s=='d'"}],"mark":{"type":"area","fillOpacity":0.55,"stroke":"#8ccc8c","strokeWidth":2.5,"strokeDash":[2,3]},"encoding":{"y2":{"field":"lo"},
"color":{"field":"s","type":"nominal","scale":{"domain":["a","c","b","d"],"range":["#0c0ce8","#117a11","#a8a8f0","#a0d4a0"]}}}},
{"data":{"name":"r4"},"mark":{"type":"line","strokeWidth":4.5},"encoding":{
"color":{"field":"s","type":"nominal","scale":{"domain":["a","c","b","d"],"range":["#0c0ce8","#117a11","#a8a8f0","#a0d4a0"]},
"legend":{"orient":"none","legendX":107,"legendY":344,"columns":2,"title":null,
"labelExpr":"datum.value=='a'?'Insulin User':datum.value=='b'?'CI Insulin':datum.value=='c'?'DPP-4i User':'CI DPP-4i'",
"encoding":{"symbols":{
"shape":{"value":{"expr":"(datum.value=='b'||datum.value=='d')?'M-0.56,-1L6.94,-1L6.94,1L-0.56,1Z':'M-0.56,0L6.94,0'"}},
"fill":{"value":{"expr":"datum.value=='b'?'#cfcff7':datum.value=='d'?'#cde8cd':'transparent'"}},
"stroke":{"value":{"expr":"datum.value=='a'?'#0c0ce8':datum.value=='c'?'#117a11':datum.value=='b'?'#8f8ff0':'#8ccc8c'"}},
"strokeWidth":{"value":{"expr":"((datum.value=='a'||datum.value=='c')?3:2)"}},
"strokeDash":{"value":{"expr":"datum.value=='b'?[6,3]:datum.value=='d'?[2,2]:[1,0]"}}}}}}}}
]}
],"spacing":40,"resolve":{"scale":{"color":"independent"},"legend":{"color":"independent"}}}
]
}
